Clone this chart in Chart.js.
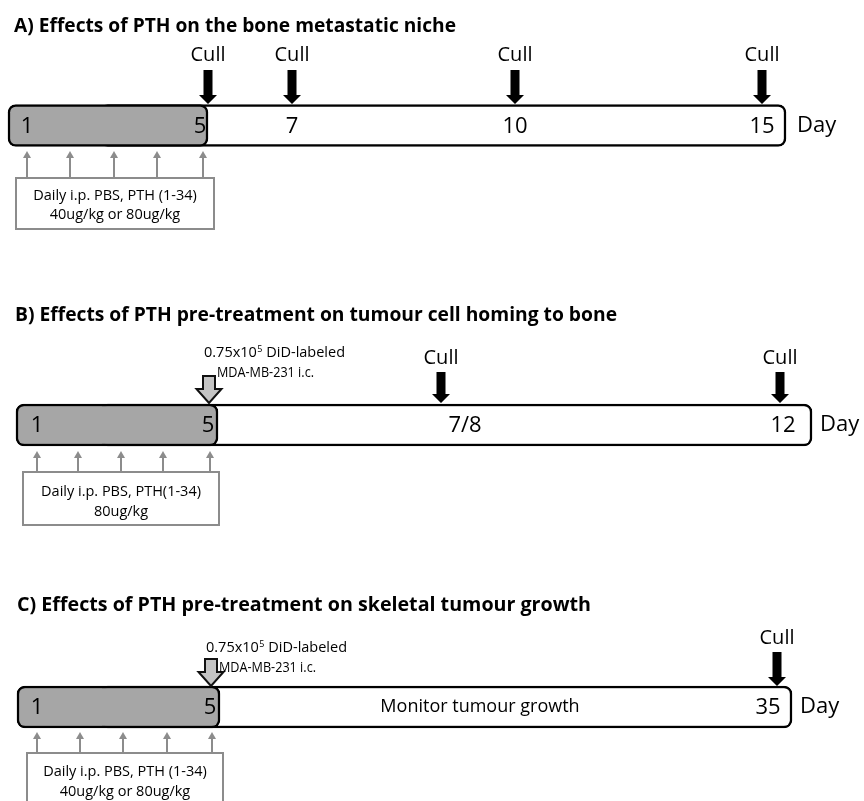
<!DOCTYPE html>
<html>
<head>
<meta charset="utf-8">
<script src="https://cdn.jsdelivr.net/npm/chart.js@4.4.0/dist/chart.umd.min.js"></script>
<style>
  html, body { margin: 0; padding: 0; background: #fff; }
  #wrap { width: 864px; height: 801px; }
</style>
</head>
<body>
<div id="wrap"><canvas id="timeline"></canvas></div>
<script>
/* ── Data ──────────────────────────────────────────────── */
const panelTitles = [
  'A) Effects of PTH on the bone metastatic niche',
  'B) Effects of PTH pre-treatment on tumour cell homing to bone',
  'C) Effects of PTH pre-treatment on skeletal tumour growth'
];
const dayLabelsA = ['1', '5', '7', '10', '15'];
const dayLabelsB = ['1', '5', '7/8', '12'];
const dayLabelsC = ['1', '5', '35'];
const cullDaysA  = ['5', '7', '10', '15'];
const cullDaysB  = ['7/8', '12'];
const cullDaysC  = ['35'];
const doseDays   = ['1', '2', '3', '4', '5'];
const injectDay  = '5';
const doseTextA  = ['Daily i.p. PBS, PTH (1-34)', '40ug/kg or 80ug/kg'];
const doseTextB  = ['Daily i.p. PBS, PTH(1-34)', '80ug/kg'];
const doseTextC  = ['Daily i.p. PBS, PTH (1-34)', '40ug/kg or 80ug/kg'];
const injectText = ['0.75x10', '5', ' DiD-labeled', 'MDA-MB-231 i.c.'];
const phaseTextC = 'Monitor tumour growth';
const unitLabel  = 'Day';

/* ── Layout (track units = px on the 864x801 scales) ──── */
const panels = [
  { title: panelTitles[0], days: dayLabelsA, culls: cullDaysA, dose: doseTextA, inject: false,
    titleX: 14, titleY: 26, titleW: 442,
    barY: 125.5, barH: 41, trackStart: 8, treatEnd: 208, followStart: 100, trackEnd: 786,
    labelX: { '1': 27, '5': 200, '7': 292, '10': 515, '15': 762 },
    eventX: { '5': 208, '7': 292, '10': 515, '15': 762 },
    doseX:  { '1': 27, '2': 70, '3': 114, '4': 157, '5': 203 },
    cullTop: 70, cullLabelY: 55, dayX: 797,
    doseTip: 152, doseBase: 178, box: [16, 178, 214, 229], boxText: [196, 215] },
  { title: panelTitles[1], days: dayLabelsB, culls: cullDaysB, dose: doseTextB, inject: true,
    titleX: 15, titleY: 315, titleW: 602,
    barY: 425, barH: 42, trackStart: 16, treatEnd: 218, followStart: 100, trackEnd: 812,
    labelX: { '1': 37, '5': 208, '7/8': 465, '12': 783 },
    eventX: { '5': 209, '7/8': 441, '12': 780 },
    doseX:  { '1': 37, '2': 78, '3': 121, '4': 163, '5': 210 },
    cullTop: 372, cullLabelY: 358, dayX: 820,
    injTop: 376, injText: [353, 373],
    doseTip: 447, doseBase: 472, box: [23, 472, 219, 525], boxText: [492, 512] },
  { title: panelTitles[2], days: dayLabelsC, culls: cullDaysC, dose: doseTextC, inject: true,
    titleX: 17, titleY: 605, titleW: 574,
    barY: 707, barH: 40, trackStart: 17, treatEnd: 220, followStart: 100, trackEnd: 792,
    labelX: { '1': 37, '5': 210, '35': 768 },
    eventX: { '5': 211, '35': 777 },
    doseX:  { '1': 37, '2': 80, '3': 123, '4': 167, '5': 212 },
    cullTop: 652, cullLabelY: 638, dayX: 800, phase: phaseTextC, phaseX: 480,
    injTop: 659, injText: [648, 668],
    doseTip: 727, doseBase: 753, box: [27, 753, 223, 820], boxText: [772, 792] }
];

const FONT = '"Open Sans", "Noto Sans", sans-serif';
const GREY_FILL = '#a6a6a6';
const GREY_LINE = '#8c8c8c';

/* ── Drawing helpers ───────────────────────────────────── */
function blockArrow(ctx, x, top, tip, shaftW, headW, headH, fill, stroke, lw) {
  const hb = tip - headH;
  ctx.beginPath();
  ctx.moveTo(x - shaftW / 2, top);
  ctx.lineTo(x + shaftW / 2, top);
  ctx.lineTo(x + shaftW / 2, hb);
  ctx.lineTo(x + headW / 2, hb);
  ctx.lineTo(x, tip);
  ctx.lineTo(x - headW / 2, hb);
  ctx.lineTo(x - shaftW / 2, hb);
  ctx.closePath();
  ctx.fillStyle = fill;
  ctx.fill();
  if (stroke) { ctx.lineWidth = lw; ctx.strokeStyle = stroke; ctx.lineJoin = 'miter'; ctx.stroke(); }
}

function upArrow(ctx, x, base, tip) {
  ctx.strokeStyle = GREY_LINE;
  ctx.fillStyle = GREY_LINE;
  ctx.lineWidth = 2;
  ctx.beginPath();
  ctx.moveTo(x, base);
  ctx.lineTo(x, tip + 6);
  ctx.stroke();
  ctx.beginPath();
  ctx.moveTo(x - 4, tip + 7);
  ctx.lineTo(x + 4, tip + 7);
  ctx.lineTo(x, tip);
  ctx.closePath();
  ctx.fill();
}

function text(ctx, str, x, y, size, opts = {}) {
  ctx.font = `${opts.bold ? 'bold ' : ''}${size}px ${FONT}`;
  ctx.fillStyle = opts.color || '#000';
  ctx.textAlign = opts.align || 'center';
  ctx.textBaseline = 'middle';
  if (opts.maxW) ctx.fillText(str, x, y, opts.maxW);
  else ctx.fillText(str, x, y);
}

const overlay = {
  id: 'overlay',
  afterDatasetsDraw(chart) {
    const ctx = chart.ctx;
    const X = v => chart.scales.x.getPixelForValue(v);
    const Y = v => chart.scales.y.getPixelForValue(v);
    ctx.save();
    panels.forEach(p => {
      const barTop = Y(p.barY - p.barH / 2);
      const barBot = Y(p.barY + p.barH / 2);

      text(ctx, p.title, X(p.titleX), Y(p.titleY), 20, { bold: true, align: 'left', maxW: p.titleW });

      // day numbers inside the track
      p.days.forEach(d => text(ctx, d, X(p.labelX[d]), Y(p.barY) + 1, 22));
      text(ctx, unitLabel, X(p.dayX), Y(p.barY), 22, { align: 'left' });
      if (p.phase) text(ctx, p.phase, X(p.phaseX), Y(p.barY), 18);

      // cull arrows
      p.culls.forEach(d => {
        const x = X(p.eventX[d]);
        blockArrow(ctx, x, Y(p.cullTop), barTop - 1, 9, 18, 9, '#000');
        text(ctx, 'Cull', x, Y(p.cullLabelY), 20);
      });

      // tumour cell injection
      if (p.inject) {
        const x = X(p.eventX[injectDay]);
        blockArrow(ctx, x, Y(p.injTop), barTop - 1, 12, 25, 14, '#c4c4c4', '#111', 2);
        ctx.font = `14.5px ${FONT}`;
        ctx.textAlign = 'left';
        ctx.textBaseline = 'middle';
        ctx.fillStyle = '#000';
        let tx = x - 5;
        const ty = Y(p.injText[0]);
        ctx.fillText(injectText[0], tx, ty);
        tx += ctx.measureText(injectText[0]).width;
        ctx.font = `9px ${FONT}`;
        ctx.fillText(injectText[1], tx + 0.5, ty - 4);
        tx += ctx.measureText(injectText[1]).width + 0.5;
        ctx.font = `14.5px ${FONT}`;
        ctx.fillText(injectText[2], tx, ty);
        ctx.fillText(injectText[3], x + 8, Y(p.injText[1]), 97);
      }

      // daily dosing arrows and box
      doseDays.forEach(d => upArrow(ctx, X(p.doseX[d]), Y(p.doseBase), barBot + 5));
      const [bx0, by0, bx1, by1] = p.box;
      ctx.fillStyle = '#fff';
      ctx.fillRect(X(bx0), Y(by0), X(bx1) - X(bx0), Y(by1) - Y(by0));
      ctx.strokeStyle = GREY_LINE;
      ctx.lineWidth = 2;
      ctx.strokeRect(X(bx0), Y(by0), X(bx1) - X(bx0), Y(by1) - Y(by0));
      const cx = X((bx0 + bx1) / 2);
      p.dose.forEach((line, i) => text(ctx, line, cx, Y(p.boxText[i]), 14.5));
    });
    ctx.restore();
  }
};

/* ── Chart ─────────────────────────────────────────────── */
const treatmentBars = panels.map(p => ({ x: [p.trackStart, p.treatEnd], y: p.barY }));
const followBars    = panels.map(p => ({ x: [p.followStart, p.trackEnd], y: p.barY }));

new Chart(document.getElementById('timeline'), {
  type: 'bar',
  data: {
    datasets: [
      { label: 'Treatment', data: treatmentBars, backgroundColor: GREY_FILL, borderColor: '#000',
        borderWidth: 2.5, borderRadius: 8, borderSkipped: false, barThickness: 42, grouped: false, order: 0 },
      { label: 'Follow-up', data: followBars, backgroundColor: '#fff', borderColor: '#000',
        borderWidth: 2.5, borderRadius: 8, borderSkipped: false, barThickness: 42, grouped: false, order: 1 }
    ]
  },
  options: {
    indexAxis: 'y',
    responsive: true, maintainAspectRatio: false,
    animation: false,
    layout: { padding: 0 },
    plugins: { legend: { display: false }, tooltip: { enabled: false } },
    scales: {
      x: { type: 'linear', min: 0, max: 864, display: false, offset: false },
      y: { type: 'linear', min: 0, max: 801, reverse: true, display: false, offset: false }
    }
  },
  plugins: [overlay]
});
</script>
</body>
</html>
